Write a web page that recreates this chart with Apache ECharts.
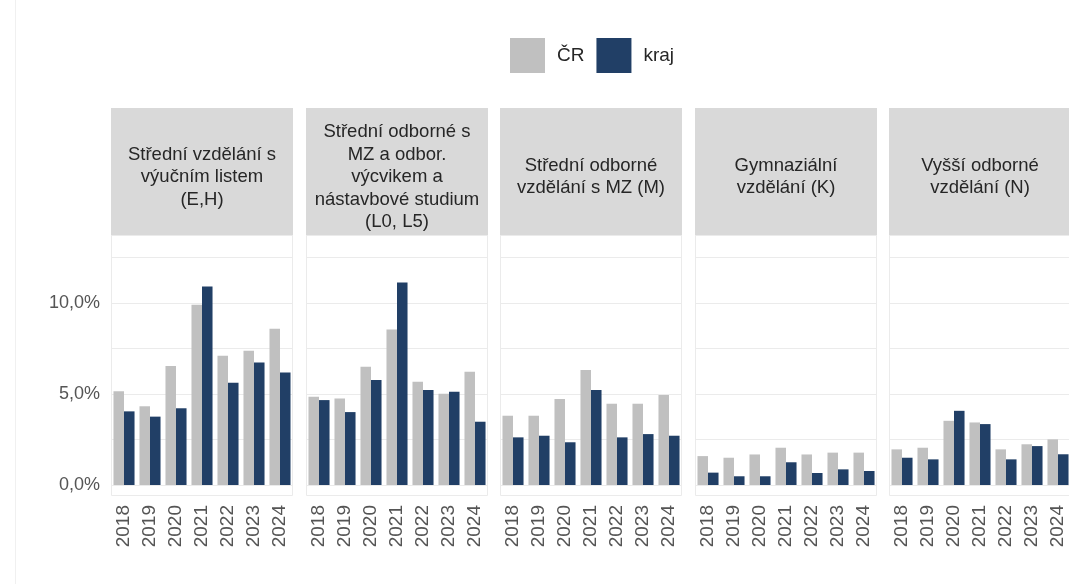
<!DOCTYPE html>
<html>
<head>
<meta charset="utf-8">
<script src="https://cdn.jsdelivr.net/npm/echarts@6/dist/echarts.min.js"></script>
<style>
  html, body { margin: 0; padding: 0; background: #fff; }
  #chart { width: 1069px; height: 584px; }
</style>
</head>
<body>
<div id="chart"></div>
<script>
// data (podíl v %)
const years = ['2018', '2019', '2020', '2021', '2022', '2023', '2024']
const facetTitles = [
  'Střední vzdělání s\nvýučním listem\n(E,H)',
  'Střední odborné s\nMZ a odbor.\nvýcvikem a\nnástavbové studium\n(L0, L5)',
  'Střední odborné\nvzdělání s MZ (M)',
  'Gymnaziální\nvzdělání (K)',
  'Vyšší odborné\nvzdělání (N)'
]
const crEH = [5.15, 4.33, 6.54, 9.91, 7.11, 7.38, 8.6]
const krajEH = [4.05, 3.76, 4.22, 10.92, 5.62, 6.74, 6.19]
const crL = [4.85, 4.76, 6.5, 8.55, 5.68, 5.02, 6.23]
const krajL = [4.67, 4.01, 5.77, 11.14, 5.22, 5.13, 3.48]
const crM = [3.81, 3.81, 4.73, 6.32, 4.47, 4.47, 4.95]
const krajM = [2.62, 2.71, 2.35, 5.22, 2.62, 2.8, 2.71]
const crK = [1.59, 1.5, 1.68, 2.05, 1.68, 1.78, 1.78]
const krajK = [0.68, 0.48, 0.48, 1.25, 0.66, 0.86, 0.77]
const crN = [1.96, 2.05, 3.53, 3.44, 1.96, 2.24, 2.51]
const krajN = [1.5, 1.41, 4.08, 3.35, 1.41, 2.14, 1.69]
const crSeries = [crEH, crL, crM, crK, crN]
const krajSeries = [krajEH, krajL, krajM, krajK, krajN]

const FONT = "'Liberation Sans', Arial, sans-serif"
const panelLefts = [111, 306, 500, 695, 889]
const panelWidth = 182
const headerTop = 108
const panelTop = 235
const zeroY = 485

const chart = echarts.init(document.getElementById('chart'))

const grids = []
const xAxes = []
const yAxes = []
const series = []
const graphics = []

panelLefts.forEach((left, i) => {
  grids.push({
    left: left,
    top: panelTop,
    width: panelWidth,
    height: zeroY - panelTop,
    containLabel: false,
    outerBoundsMode: 'none'
  })
  xAxes.push({
    type: 'category',
    gridIndex: i,
    data: years,
    axisLine: { show: false },
    axisTick: { show: false },
    axisLabel: {
      rotate: 90,
      margin: 20,
      fontSize: 19,
      fontFamily: FONT,
      color: '#555'
    },
    splitLine: { show: false }
  })
  yAxes.push({
    type: 'value',
    gridIndex: i,
    min: 0,
    max: 13.75,
    interval: 2.5,
    axisLine: { show: false },
    axisTick: { show: false },
    axisLabel: {
      show: i === 0,
      margin: 11,
      fontSize: 18,
      fontFamily: FONT,
      color: '#555',
      formatter: (v) => (v % 5 === 0 ? v.toFixed(1).replace('.', ',') + '%' : '')
    },
    splitLine: { show: true, lineStyle: { color: '#ebebeb', width: 1 } }
  })
  series.push({
    name: 'ČR',
    type: 'bar',
    xAxisIndex: i,
    yAxisIndex: i,
    data: crSeries[i],
    barGap: 0,
    barCategoryGap: '19%',
    itemStyle: { color: '#c0c0c0' }
  })
  series.push({
    name: 'kraj',
    type: 'bar',
    xAxisIndex: i,
    yAxisIndex: i,
    data: krajSeries[i],
    barGap: 0,
    barCategoryGap: '19%',
    itemStyle: { color: '#213f66' }
  })

  // facet header + panel frame
  graphics.push({
    type: 'rect',
    shape: { x: left, y: headerTop, width: panelWidth, height: panelTop - headerTop },
    style: { fill: '#d9d9d9' },
    silent: true
  })
  graphics.push({
    type: 'text',
    x: left + panelWidth / 2,
    y: 177,
    style: {
      text: facetTitles[i],
      align: 'center',
      verticalAlign: 'middle',
      fontSize: 18.5,
      lineHeight: 22.5,
      fontFamily: FONT,
      fill: '#262626'
    },
    silent: true
  })
  graphics.push({
    type: 'rect',
    shape: { x: left + 0.5, y: panelTop + 0.5, width: panelWidth - 1, height: 260 },
    style: { fill: 'none', stroke: '#ebebeb', lineWidth: 1 },
    silent: true
  })
})

graphics.push({
  type: 'line',
  shape: { x1: 15.5, y1: 0, x2: 15.5, y2: 584 },
  style: { stroke: '#f0f0f0', lineWidth: 1 },
  silent: true
})

const option = {
  animation: false,
  backgroundColor: '#fff',
  legend: {
    data: ['ČR', 'kraj'],
    left: 505,
    top: 33,
    icon: 'rect',
    itemWidth: 35,
    itemHeight: 35,
    itemGap: 12,
    textStyle: {
      fontSize: 19,
      fontFamily: FONT,
      color: '#262626',
      padding: [0, 0, 0, 7]
    }
  },
  grid: grids,
  xAxis: xAxes,
  yAxis: yAxes,
  series: series,
  graphic: graphics
}

chart.setOption(option)
</script>
</body>
</html>
